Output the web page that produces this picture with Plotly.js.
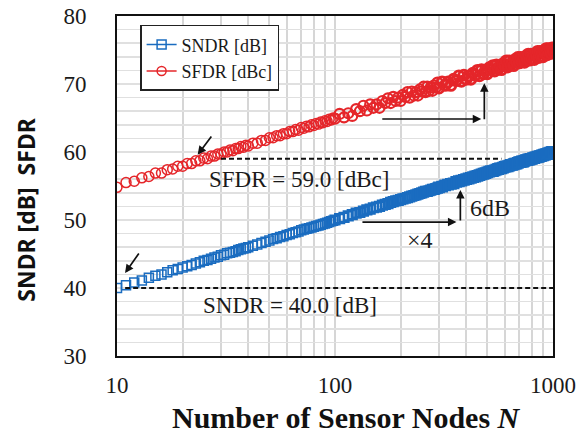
<!DOCTYPE html>
<html>
<head>
<meta charset="utf-8">
<script src="https://cdn.plot.ly/plotly-3.0.1.min.js"></script>
<style>html,body{margin:0;padding:0;background:#fff;}#chart{width:581px;height:436px;}</style>
</head>
<body>
<div id="chart"></div>
<script>
// Number of sensor nodes
const nodes = [10,11,12,13,14,15,16,17,18,19,20,21,22,23,24,25,26,27,28,29,30,31,32,33,34,35,36,37,38,39,40,
42,44,46,48,50,52,54,56,58,60,62,64,66,68,70,72,74,76,78,80,82,84,86,88,90,92,94,96,98,100,
105,110,115,120,125,130,135,140,145,150,155,160,165,170,175,180,185,190,195,200,205,210,215,220,225,230,235,240,245,250,255,260,265,270,275,280,285,290,295,300,
310,320,330,340,350,360,370,380,390,400,410,420,430,440,450,460,470,480,490,500,510,520,530,540,550,560,570,580,590,600,610,620,630,640,650,660,670,680,690,700,710,720,730,740,750,760,770,780,790,800,810,820,830,840,850,860,870,880,890,900,910,920,930,940,950,960,970,980,990,1000];

const sndr = [40.0,40.4,40.8,41.1,41.5,41.8,42.0,42.3,42.6,42.8,43.0,43.2,43.4,43.6,43.8,44.0,44.1,44.3,44.5,44.6,44.8,44.9,45.1,45.2,45.3,45.4,45.6,45.7,45.8,45.9,46.0,
46.2,46.4,46.6,46.8,47.0,47.2,47.3,47.5,47.6,47.8,47.9,48.1,48.2,48.3,48.5,48.6,48.7,48.8,48.9,49.0,49.1,49.2,49.3,49.4,49.5,49.6,49.7,49.8,49.9,50.0,
50.2,50.4,50.6,50.8,51.0,51.1,51.3,51.5,51.6,51.8,51.9,52.0,52.2,52.3,52.4,52.6,52.7,52.8,52.9,53.0,53.1,53.2,53.3,53.4,53.5,53.6,53.7,53.8,53.9,54.0,54.1,54.2,54.2,54.3,54.4,54.5,54.5,54.6,54.7,54.8,
54.9,55.1,55.2,55.3,55.4,55.6,55.7,55.8,55.9,56.0,56.1,56.2,56.3,56.4,56.5,56.6,56.7,56.8,56.9,57.0,57.1,57.2,57.2,57.3,57.4,57.5,57.6,57.6,57.7,57.8,57.9,57.9,58.0,58.1,58.1,58.2,58.3,58.3,58.4,58.5,58.5,58.6,58.6,58.7,58.8,58.8,58.9,58.9,59.0,59.0,59.1,59.1,59.2,59.2,59.3,59.3,59.4,59.4,59.5,59.5,59.6,59.6,59.7,59.7,59.8,59.8,59.9,59.9,60.0,60.0];

const sfdr = [54.8,55.5,55.7,56.2,56.4,56.9,56.9,57.4,57.5,57.9,57.9,58.3,58.3,58.7,58.7,59.1,59.0,59.4,59.4,59.7,59.7,60.0,60.0,60.3,60.2,60.5,60.5,60.8,60.7,61.0,60.9,
61.3,61.3,61.7,61.7,62.1,62.1,62.4,62.4,62.7,62.7,63.0,63.0,63.3,63.2,63.6,63.5,63.8,63.7,64.0,63.9,64.2,64.1,64.4,64.3,64.6,64.5,64.8,64.7,65.0,64.9,
65.6,65.1,65.7,65.3,66.3,66.0,66.8,66.1,67.0,66.5,67.0,66.5,67.5,67.2,67.9,67.2,68.1,67.5,68.0,67.5,68.4,68.1,68.8,68.0,68.9,68.3,68.8,68.3,69.2,68.9,69.6,68.8,69.6,69.0,69.5,69.0,69.8,69.5,70.2,69.4,
70.3,69.8,70.3,69.8,70.7,70.5,71.2,70.4,71.3,70.7,71.2,70.7,71.6,71.3,72.0,71.2,72.1,71.5,72.0,71.5,72.4,72.1,72.7,71.9,72.8,72.2,72.7,72.1,73.0,72.7,73.4,72.5,73.4,72.8,73.2,72.7,73.6,73.2,73.9,73.1,73.9,73.3,73.7,73.2,74.1,73.7,74.4,73.5,74.4,73.7,74.2,73.6,74.5,74.1,74.8,73.9,74.8,74.1,74.6,74.0,74.9,74.5,75.2,74.3,75.2,74.6,75.1,74.5,75.3,74.8];

// Reference levels
const sfdrRefLevel = 59.0, sfdrRefN = [30, 580];
const sndrRefLevel = 40.0, sndrRefN = [10.9, 1000];

// Axis ticks
const xTickVals = [10,20,30,40,50,60,70,80,90,100,200,300,400,500,600,700,800,900,1000];
const xTickText = ['10','','','','','','','','','100','','','','','','','','','1000'];
const yTickVals = [30,32,34,36,38,40,42,44,46,48,50,52,54,56,58,60,62,64,66,68,70,72,74,76,78,80];
const yTickText = yTickVals.map(v => (v % 10 === 0 ? String(v) : ''));

const BLUE = '#1a6cc0', RED = '#e5262a';
const SERIF = 'Liberation Serif, Times New Roman, serif';
// marker outline thickens where markers pack densely (style only)
const outline = n => (n < 100 ? 1.5 : n < 300 ? 2.2 : 2.8);
const lineWidths = nodes.map(outline);

const traces = [
  {x: nodes, y: sndr, mode: 'markers', type: 'scatter', showlegend: false,
   marker: {symbol: 'square-open', size: 9, color: BLUE, line: {width: lineWidths, color: BLUE}}},
  {x: nodes, y: sfdr, mode: 'markers', type: 'scatter', showlegend: false,
   marker: {symbol: 'circle-open', size: 10, color: RED, line: {width: lineWidths, color: RED}}},
  {x: sfdrRefN, y: [sfdrRefLevel, sfdrRefLevel], mode: 'lines', showlegend: false,
   line: {color: '#111', width: 2, dash: '5px,3px'}},
  {x: sndrRefN, y: [sndrRefLevel, sndrRefLevel], mode: 'lines', showlegend: false,
   line: {color: '#111', width: 2, dash: '5px,3px'}},
  {x: [null], y: [null], mode: 'lines+markers', name: 'SNDR [dB]',
   line: {color: BLUE, width: 1.5},
   marker: {symbol: 'square-open', size: 9, color: BLUE, line: {width: 1.5, color: BLUE}}},
  {x: [null], y: [null], mode: 'lines+markers', name: 'SFDR [dBc]',
   line: {color: RED, width: 1.5},
   marker: {symbol: 'circle-open', size: 9, color: RED, line: {width: 1.5, color: RED}}}
];

const arrow = (x, y, ax, ay) => ({x: x, y: y, ax: ax, ay: ay, xref: 'x', yref: 'y', axref: 'x', ayref: 'y',
  showarrow: true, arrowhead: 2, arrowsize: 1, arrowwidth: 1.7, arrowcolor: '#111', text: ''});
const label = (x, y, text, size) => ({x: x, y: y, xref: 'x', yref: 'y', showarrow: false, text: text,
  xanchor: 'center', yanchor: 'middle', font: {family: SERIF, size: size, color: '#1a1a1a'}});

const layout = {
  width: 581, height: 436,
  margin: {l: 117, r: 28, t: 16, b: 80},
  paper_bgcolor: '#fff', plot_bgcolor: '#fff',
  showlegend: true,
  legend: {x: 0.053, y: 0.974, xanchor: 'left', yanchor: 'top', bgcolor: '#fff',
    bordercolor: '#222', borderwidth: 1.5, font: {family: SERIF, size: 18, color: '#1a1a1a'},
    itemwidth: 30, tracegroupgap: 0},
  xaxis: {type: 'log', range: [1, 3], tickvals: xTickVals, ticktext: xTickText,
    showgrid: true, gridcolor: '#d6d6d6', gridwidth: 2,
    showline: true, mirror: true, linecolor: '#111', linewidth: 2,
    ticks: '', ticklabelstandoff: 7, zeroline: false,
    tickfont: {family: SERIF, size: 23, color: '#1a1a1a'}},
  yaxis: {range: [30, 80], tickvals: yTickVals, ticktext: yTickText,
    showgrid: true, gridcolor: '#e0e0e0', gridwidth: 1.5,
    showline: true, mirror: true, linecolor: '#111', linewidth: 2,
    ticks: '', ticklabelstandoff: 24, zeroline: false,
    tickfont: {family: SERIF, size: 23, color: '#1a1a1a'}},
  annotations: [
    {x: -0.209, y: 0.43, xref: 'paper', yref: 'paper', xanchor: 'center', yanchor: 'middle',
     showarrow: false, textangle: -90,
     text: '<b>SNDR [dB]  SFDR</b>', font: {family: 'Noto Sans, sans-serif', size: 23, color: '#111'}},
    {x: 0.5275, y: -0.182, xref: 'paper', yref: 'paper', xanchor: 'center', yanchor: 'middle',
     showarrow: false,
     text: '<b>Number of Sensor Nodes <i>N</i></b>', font: {family: SERIF, size: 30, color: '#111'}},
    label(1.836, 55.9, 'SFDR = 59.0 [dBc]', 23),
    label(1.795, 37.5, 'SNDR = 40.0 [dB]', 23),
    label(2.712, 51.8, '6dB', 24),
    label(2.388, 47.1, '×4', 24),
    arrow(1.370, 59.6, 1.438, 62.5),
    arrow(1.037, 42.2, 1.105, 45.3),
    arrow(2.671, 64.85, 2.210, 64.85),
    arrow(2.685, 70.1, 2.685, 64.6),
    arrow(2.557, 49.7, 2.119, 49.7),
    arrow(2.575, 54.4, 2.575, 49.7)
  ]
};

Plotly.newPlot('chart', traces, layout, {displayModeBar: false, staticPlot: true});
</script>
</body>
</html>
